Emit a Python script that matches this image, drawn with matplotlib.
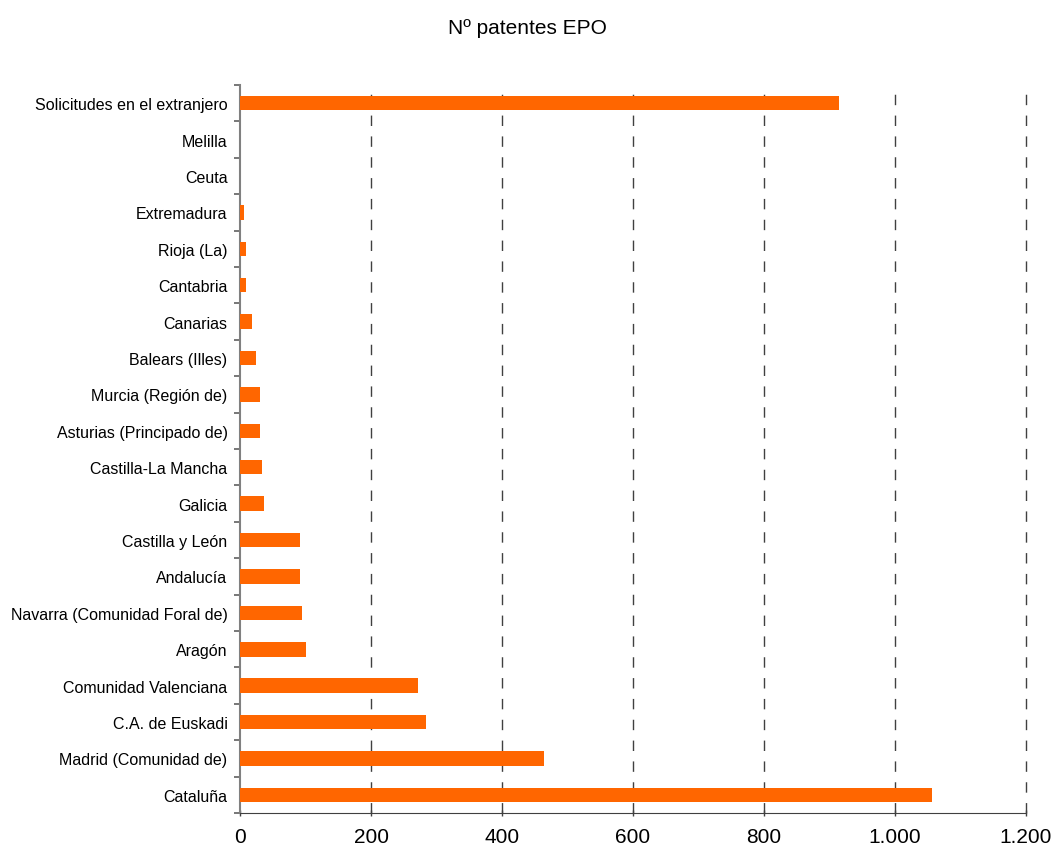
import numpy as np
import matplotlib
matplotlib.use('Agg')
import matplotlib.pyplot as plt

plt.rcParams['font.family'] = ['Liberation Sans', 'DejaVu Sans']

# comunidades, de abajo arriba
regiones = ['Cataluña', 'Madrid (Comunidad de)', 'C.A. de Euskadi', 'Comunidad Valenciana',
            'Aragón', 'Navarra (Comunidad Foral de)', 'Andalucía', 'Castilla y León',
            'Galicia', 'Castilla-La Mancha', 'Asturias (Principado de)', 'Murcia (Región de)',
            'Balears (Illes)', 'Canarias', 'Cantabria', 'Rioja (La)', 'Extremadura',
            'Ceuta', 'Melilla', 'Solicitudes en el extranjero']
patentes = [1056, 464, 284, 272, 101, 95, 92, 92, 37, 34, 31, 31, 24, 18, 9, 9, 6, 0, 0, 915]
xticks = [0, 200, 400, 600, 800, 1000, 1200]
xlabels = ['0', '200', '400', '600', '800', '1.000', '1.200']

fig = plt.figure(figsize=(10.55, 8.54), dpi=100)
ax = fig.add_axes([0.2275, 0.0468, 0.745, 0.8525])

y = np.arange(len(regiones))
ax.barh(y, patentes, height=0.4, color='#FF6600', zorder=3)

ax.set_xlim(0, 1200)
ax.set_ylim(-0.5, len(regiones) - 0.5)

# lineas de division
for v in xticks[1:]:
    ax.axvline(v, color='#404040', lw=1, dashes=(7.5, 7.5), zorder=1, clip_on=False)

ax.set_xticks(xticks)
ax.set_xticklabels(xlabels, fontsize=15)
ax.set_yticks(y)
ax.set_yticklabels(regiones, fontsize=11.5)
ax.set_yticks(np.arange(-0.5, len(regiones)), minor=True)
ax.tick_params(axis='y', which='major', length=0, pad=9)
ax.tick_params(axis='y', which='minor', length=4, width=1.2, color='#606060', direction='out')
ax.tick_params(axis='x', length=4, width=1, color='#404040', direction='inout', pad=8)

for s in ['top', 'right']:
    ax.spines[s].set_visible(False)
ax.spines['left'].set_color('#808080')
ax.spines['left'].set_linewidth(1.5)
ax.spines['bottom'].set_color('#404040')

fig.text(0.5, 0.967, 'Nº patentes EPO', ha='center', va='center', fontsize=15)

fig.savefig('out.png', dpi=100, facecolor='white')
